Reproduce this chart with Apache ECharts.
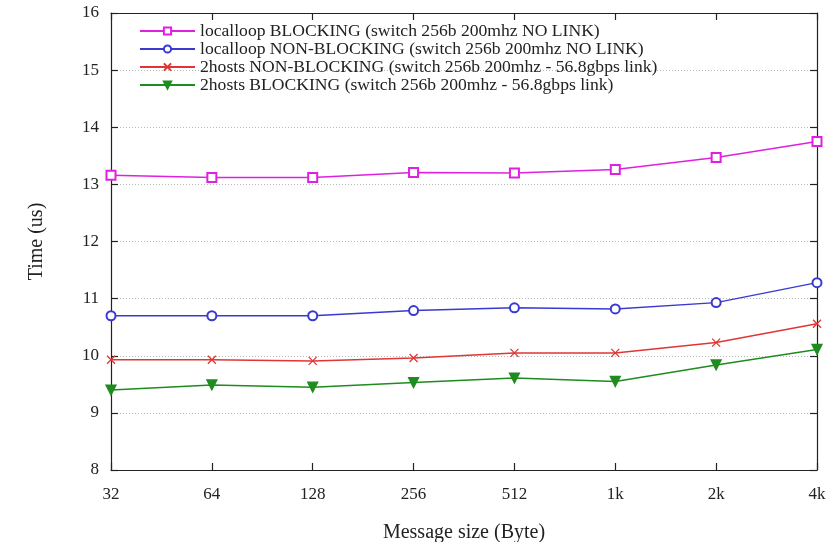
<!DOCTYPE html>
<html><head><meta charset="utf-8">
<script src="https://cdn.jsdelivr.net/npm/echarts@6/dist/echarts.min.js"></script>
<style>html,body{margin:0;padding:0;background:#fff}#c{width:827px;height:542px}</style>
</head><body><div id="c"></div>
<script>
const categories = ['32','64','128','256','512','1k','2k','4k'];
const localBlocking = [13.16, 13.12, 13.12, 13.21, 13.20, 13.26, 13.47, 13.75];
const localNonBlocking = [10.70, 10.70, 10.70, 10.79, 10.84, 10.82, 10.93, 11.28];
const hostsNonBlocking = [9.93, 9.93, 9.91, 9.96, 10.05, 10.05, 10.23, 10.56];
const hostsBlocking = [9.40, 9.49, 9.45, 9.53, 9.61, 9.55, 9.84, 10.11];
const seriesNames = [
  'localloop BLOCKING (switch 256b 200mhz NO LINK)',
  'localloop NON-BLOCKING (switch 256b 200mhz NO LINK)',
  '2hosts NON-BLOCKING (switch 256b 200mhz - 56.8gbps link)',
  '2hosts BLOCKING (switch 256b 200mhz - 56.8gbps link)'
];
const FONT = '"Liberation Serif", "DejaVu Serif", serif';
const chart = echarts.init(document.getElementById('c'));
function mk(name, data, color, symbol, extra) {
  return Object.assign({
    name, type: 'line', data, symbol, symbolSize: 8,
    lineStyle: {color, width: 1.5},
    itemStyle: {color, borderColor: color, borderWidth: 1.3},
    xAxisIndex: 0, yAxisIndex: 0, z: 3
  }, extra || {});
}
const axisLineStyle = {color: '#222', width: 1.2};
chart.setOption({
  animation: false,
  backgroundColor: '#fff',
  grid: {left: 111, right: 10, top: 13, bottom: 72, containLabel: false, outerBoundsMode: 'none'},
  legend: {
    orient: 'vertical', left: 139, top: 22, padding: 0, itemGap: 0, itemWidth: 55, itemHeight: 9,
    textStyle: {fontFamily: FONT, fontSize: 17.6, color: '#222', lineHeight: 17},
    data: seriesNames
  },
  xAxis: [{
    type: 'category', data: categories, boundaryGap: false, position: 'bottom',
    axisLine: {lineStyle: axisLineStyle}, axisTick: {inside: true, length: 7, lineStyle: axisLineStyle},
    axisLabel: {fontFamily: FONT, fontSize: 17, color: '#222', margin: 16, showMaxLabel: true},
    name: 'Message size (Byte)', nameLocation: 'middle', nameGap: 53,
    nameTextStyle: {fontFamily: FONT, fontSize: 20, color: '#222'},
    splitLine: {show: false}
  }, {
    type: 'category', data: categories, boundaryGap: false, position: 'top',
    axisLine: {lineStyle: axisLineStyle}, axisTick: {inside: true, length: 7, lineStyle: axisLineStyle},
    axisLabel: {show: false}, splitLine: {show: false}
  }],
  yAxis: [{
    type: 'value', min: 8, max: 16, interval: 1, position: 'left',
    axisLine: {show: true, lineStyle: axisLineStyle}, axisTick: {show: true, inside: true, length: 7, lineStyle: axisLineStyle},
    axisLabel: {fontFamily: FONT, fontSize: 17, color: '#222', margin: 12},
    splitLine: {show: true, lineStyle: {color: '#bbb', type: [1, 2], width: 1}},
    name: 'Time (us)', nameLocation: 'middle', nameGap: 64, nameRotate: 90,
    nameTextStyle: {fontFamily: FONT, fontSize: 20, color: '#222'}
  }, {
    type: 'value', min: 8, max: 16, interval: 1, position: 'right',
    axisLine: {show: true, lineStyle: axisLineStyle}, axisTick: {show: true, inside: true, length: 7, lineStyle: axisLineStyle},
    axisLabel: {show: false}, splitLine: {show: false}
  }],
  series: [
    mk(seriesNames[0], localBlocking, '#e020e0', 'emptyRect', {symbolSize: 9}),
    mk(seriesNames[1], localNonBlocking, '#3a3ad0', 'emptyCircle', {symbolSize: 9}),
    mk(seriesNames[2], hostsNonBlocking, '#e03535', 'path://M0,0L10,10M10,0L0,10', {symbolSize: 8}),
    mk(seriesNames[3], hostsBlocking, '#1e8c1e', 'triangle', {symbolRotate: 180, symbolSize: 10})
  ]
});
</script></body></html>
